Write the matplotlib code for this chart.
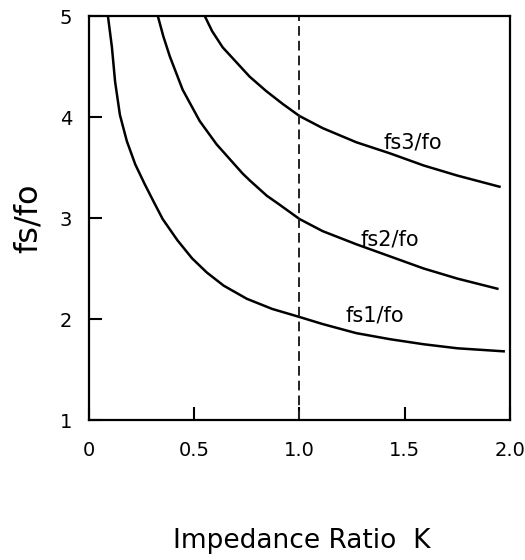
"""
plot.py

Spurious resonance frequency ratio fs/fo against impedance ratio K
for the first three spurious modes.
"""

import matplotlib
matplotlib.use("Agg")
import matplotlib.pyplot as plt

# values
k_fs1 = [0.09, 0.109, 0.124, 0.147, 0.18, 0.22, 0.266, 0.31, 0.35, 0.42,
         0.49, 0.56, 0.64, 0.75, 0.87, 1.0, 1.11, 1.27, 1.43, 1.59, 1.75,
         1.97]
fs1 = [5.0, 4.69, 4.35, 4.02, 3.76, 3.53, 3.33, 3.15, 2.99, 2.78,
       2.60, 2.46, 2.33, 2.20, 2.10, 2.02, 1.95, 1.86, 1.80, 1.75, 1.71,
       1.68]

k_fs2 = [0.327, 0.353, 0.384, 0.445, 0.526, 0.606, 0.73, 0.765, 0.845, 0.9,
         1.0, 1.11, 1.27, 1.43, 1.59, 1.75, 1.94]
fs2 = [5.0, 4.8, 4.6, 4.27, 3.96, 3.73, 3.44, 3.37, 3.22, 3.14,
       2.99, 2.87, 2.74, 2.62, 2.50, 2.40, 2.30]

k_fs3 = [0.55, 0.585, 0.635, 0.763, 0.84, 0.92, 1.0, 1.11, 1.27, 1.43,
         1.59, 1.75, 1.95]
fs3 = [5.0, 4.85, 4.69, 4.40, 4.26, 4.13, 4.01, 3.89, 3.75, 3.64,
       3.52, 3.42, 3.31]

curve_labels = ["fs1/fo", "fs2/fo", "fs3/fo"]

x_ticks = [0, 0.5, 1.0, 1.5, 2.0]
x_tick_labels = ["0", "0.5", "1.0", "1.5", "2.0"]
y_ticks = [1, 2, 3, 4, 5]
y_tick_labels = ["1", "2", "3", "4", "5"]

k_design = 1.0


def plot_spurious(ax):
    for k, fs in [(k_fs1, fs1), (k_fs2, fs2), (k_fs3, fs3)]:
        ax.plot(k, fs, color="black", lw=1.8, solid_joinstyle="round")

    ax.axvline(k_design, color="#222222", lw=1.4, ls=(0, (5.0, 2.6)))

    # curve labels, placed just above the right end of each curve
    label_pos = [(1.36, 2.03), (1.43, 2.79), (1.54, 3.75)]
    for text, (x, y) in zip(curve_labels, label_pos):
        ax.text(x, y, text, fontsize=15, ha="center", va="center")


def main():
    fig = plt.figure(figsize=(5.25, 5.6), dpi=100)
    ax = fig.add_axes([0.1695, 0.25, 0.8019, 0.7214])

    plot_spurious(ax)

    ax.set_xlim(0, 2.0)
    ax.set_ylim(1, 5)
    ax.set_xticks(x_ticks)
    ax.set_xticklabels(x_tick_labels)
    ax.set_yticks(y_ticks)
    ax.set_yticklabels(y_tick_labels)
    ax.tick_params(direction="in", length=9.5, width=1.5, labelsize=14)
    ax.tick_params(axis="x", pad=15)
    ax.tick_params(axis="y", pad=12)
    for side in ax.spines.values():
        side.set_linewidth(1.6)

    ax.set_xlabel("Impedance Ratio  K", fontsize=19, va="center")
    ax.xaxis.set_label_coords(0.506, -0.30)
    ax.set_ylabel("fs/fo", fontsize=23, va="center")
    ax.yaxis.set_label_coords(-0.145, 0.5)

    fig.savefig("out.png", dpi=100)


if __name__ == "__main__":
    main()
